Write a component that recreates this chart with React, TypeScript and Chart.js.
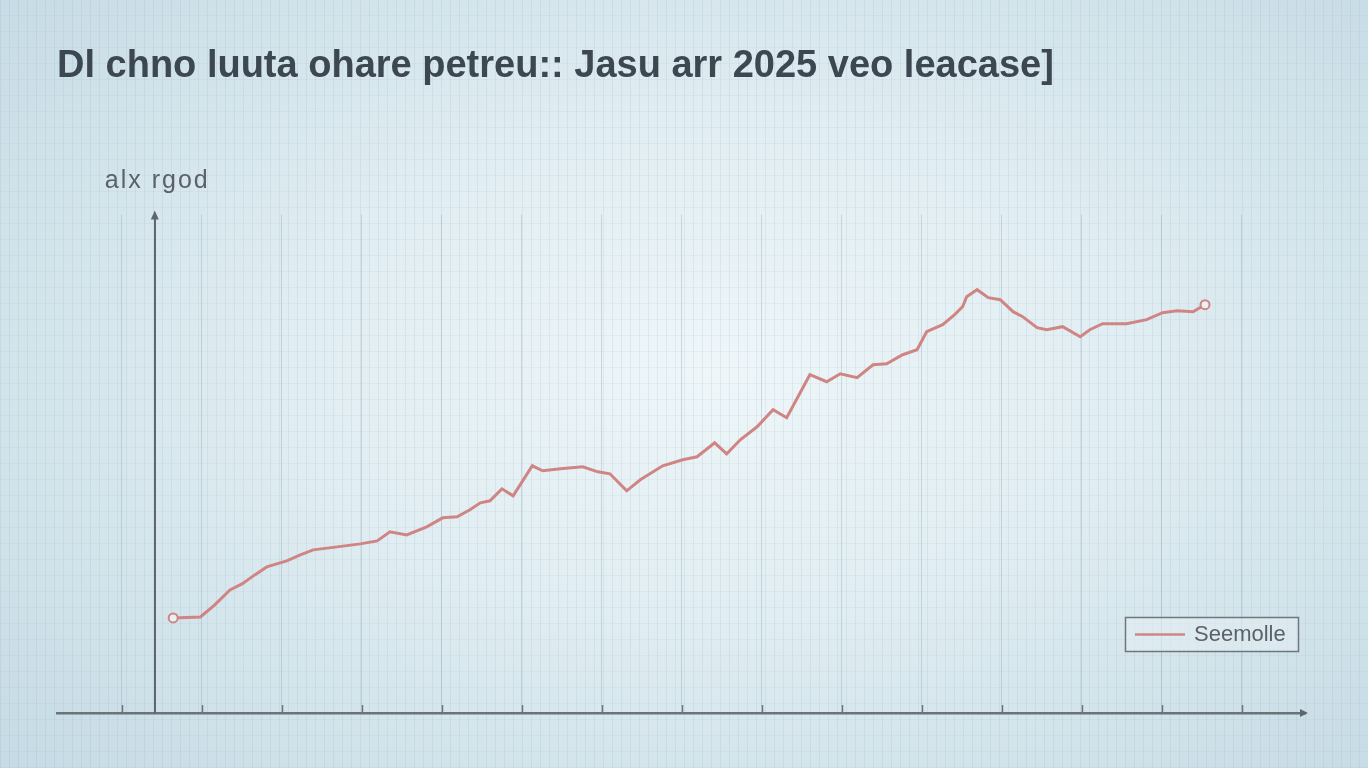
import React, { useEffect, useRef } from "react";
import { Chart, registerables } from "chart.js";

Chart.register(...registerables);

const TITLE = "Dl chno luuta ohare petreu:: Jasu arr 2025 veo leacase]";
const Y_LABEL = "alx rgod";
const SERIES_LABEL = "Seemolle";

const X_VALUES = [
  16.4, 19.8, 21.6, 23.5, 25, 26.6, 28.1, 30.6, 32.3, 33.9, 36.9, 39.8, 41.9, 43.5, 45.6, 48.1,
  50.1, 51.9, 53.5, 54.8, 56, 57.5, 58.9, 61.3, 62.6, 64.8, 67.6, 69.5, 71, 73.1, 74.8, 77.6,
  80.1, 81.9, 84.1, 85.6, 87.3, 89.4, 91.4, 93.1, 96, 98.1, 99.8, 101.9, 103.9, 105.6, 107.6,
  109.4, 110.6, 112.6, 114.1, 115.1, 115.6, 116.9, 118.3, 119.8, 121.4, 122.6, 124.4, 125.6,
  127.6, 129.8, 131, 132.6, 135.6, 138.1, 140.1, 141.9, 143.9, 145.4,
];
const Y_VALUES = [
  9.5, 9.6, 10.8, 12.3, 12.9, 13.8, 14.6, 15.2, 15.8, 16.3, 16.6, 16.9, 17.2, 18.1, 17.8, 18.6,
  19.5, 19.6, 20.3, 21, 21.2, 22.4, 21.7, 24.7, 24.2, 24.4, 24.6, 24.1, 23.9, 22.2, 23.3, 24.7,
  25.3, 25.6, 27, 25.9, 27.3, 28.6, 30.3, 29.5, 33.8, 33.1, 33.9, 33.5, 34.8, 34.9, 35.8,
  36.3, 38.1, 38.8, 39.8, 40.6, 41.6, 42.3, 41.5, 41.3, 40.1, 39.6, 38.5, 38.3,
  38.6, 37.6, 38.3, 38.9, 38.9, 39.3, 40, 40.2, 40.1, 40.8,
];
const X_TICKS = [10, 20, 30, 40, 50, 60, 70, 80, 90, 100, 110, 120, 130, 140, 150];
const X_MIN = 1.875;
const X_MAX = 157.9;
const Y_MIN = 0;
const Y_MAX = 49.8;
const Y_AXIS_AT = 14.1;

const LINE_COLOR = "#d08585";
const AXIS_COLOR = "#5f676e";
const TEXT_COLOR = "#3d4751";
const FONT = "'Liberation Sans', Arial, sans-serif";

const decorPlugin = {
  id: "decor",
  afterDraw(chart: any) {
    const { ctx, chartArea, scales } = chart;
    const xs = scales.x;
    const yAxisX = xs.getPixelForValue(Y_AXIS_AT);
    ctx.save();
    // x-axis tick marks (pointing up)
    ctx.strokeStyle = "#6d757b";
    ctx.lineWidth = 1.5;
    for (const t of xs.ticks) {
      const px = Math.round(xs.getPixelForValue(t.value)) + 0.5;
      ctx.beginPath();
      ctx.moveTo(px, chartArea.bottom);
      ctx.lineTo(px, chartArea.bottom - 8);
      ctx.stroke();
    }
    // arrow heads
    ctx.fillStyle = AXIS_COLOR;
    ctx.beginPath();
    ctx.moveTo(yAxisX, chartArea.top - 4);
    ctx.lineTo(yAxisX - 4, chartArea.top + 5);
    ctx.lineTo(yAxisX + 4, chartArea.top + 5);
    ctx.closePath();
    ctx.fill();
    ctx.beginPath();
    ctx.moveTo(chartArea.right + 3, chartArea.bottom);
    ctx.lineTo(chartArea.right - 5, chartArea.bottom - 4);
    ctx.lineTo(chartArea.right - 5, chartArea.bottom + 4);
    ctx.closePath();
    ctx.fill();
    // y-axis label
    ctx.font = `25px ${FONT}`;
    (ctx as any).letterSpacing = "2px";
    ctx.fillStyle = "#5b6169";
    ctx.textBaseline = "alphabetic";
    ctx.textAlign = "left";
    ctx.fillText(Y_LABEL, yAxisX - 50, chartArea.top - 27);
    (ctx as any).letterSpacing = "0px";
    // legend box
    const bx = chartArea.right - 180;
    const by = chartArea.bottom - 96;
    const bw = 173;
    const bh = 34;
    ctx.fillStyle = "rgba(226,238,243,0.6)";
    ctx.fillRect(bx, by, bw, bh);
    ctx.strokeStyle = "#6f777d";
    ctx.lineWidth = 1.5;
    ctx.strokeRect(bx + 0.5, by + 0.5, bw, bh);
    const ds = chart.data.datasets[0];
    ctx.strokeStyle = ds.borderColor;
    ctx.lineWidth = 2.5;
    ctx.beginPath();
    ctx.moveTo(bx + 10, by + bh / 2 + 0.5);
    ctx.lineTo(bx + 60, by + bh / 2 + 0.5);
    ctx.stroke();
    ctx.font = `22px ${FONT}`;
    ctx.fillStyle = "#5b6169";
    ctx.textBaseline = "middle";
    ctx.fillText(ds.label, bx + 69, by + bh / 2 + 1);
    ctx.restore();
  },
};

export default function App() {
  const ref = useRef<HTMLCanvasElement | null>(null);
  useEffect(() => {
    if (!ref.current) return;
    const lastIdx = X_VALUES.length - 1;
    const chart = new Chart(ref.current, {
      type: "line",
      data: {
        datasets: [
          {
            label: SERIES_LABEL,
            data: X_VALUES.map((x, i) => ({ x, y: Y_VALUES[i] })),
            borderColor: LINE_COLOR,
            borderWidth: 3,
            tension: 0,
            pointRadius: (c: any) => (c.dataIndex === 0 || c.dataIndex === lastIdx ? 4.5 : 0),
            pointBackgroundColor: "#e9f1f4",
            pointBorderColor: LINE_COLOR,
            pointBorderWidth: 2,
          },
        ],
      },
      options: {
        animation: false,
        responsive: true,
        maintainAspectRatio: false,
        layout: { padding: { left: 57, right: 63, top: 0, bottom: 55 } },
        plugins: {
          legend: { display: false },
          tooltip: { enabled: false },
          title: {
            display: true,
            text: TITLE,
            align: "start",
            color: TEXT_COLOR,
            font: { family: FONT, size: 38, weight: "bold", lineHeight: 1.2 },
            padding: { top: 44, bottom: 125 },
          },
        },
        scales: {
          x: {
            type: "linear",
            min: X_MIN,
            max: X_MAX,
            afterBuildTicks: (scale: any) => {
              scale.ticks = X_TICKS.map((v) => ({ value: v }));
            },
            ticks: { display: false },
            grid: {
              display: true,
              drawTicks: false,
              color: "rgba(120,150,168,0.3)",
              lineWidth: 1,
            },
            border: { display: true, color: "#6b7379", width: 2.5 },
          },
          y: {
            type: "linear",
            min: Y_MIN,
            max: Y_MAX,
            position: { x: Y_AXIS_AT } as any,
            ticks: { display: false },
            grid: { display: false, drawTicks: false },
            border: { display: true, color: AXIS_COLOR, width: 2 },
          },
        },
      },
      plugins: [decorPlugin],
    } as any);
    return () => chart.destroy();
  }, []);

  const bg = [
    "repeating-linear-gradient(90deg, rgba(130,165,182,0.15) 0px, rgba(130,165,182,0.15) 1px, transparent 1px, transparent 9px)",
    "repeating-linear-gradient(0deg, rgba(130,165,182,0.09) 0px, rgba(130,165,182,0.09) 1px, transparent 1px, transparent 16px)",
    "radial-gradient(ellipse 70% 75% at 52% 48%, #eef6f8 0%, #e0edf2 45%, #cfe1e9 80%, #c6dbe5 100%)",
  ].join(", ");

  return (
    <div style={{ position: "fixed", left: 0, top: 0, width: 1368, height: 768, background: bg }}>
      <canvas ref={ref} />
    </div>
  );
}
